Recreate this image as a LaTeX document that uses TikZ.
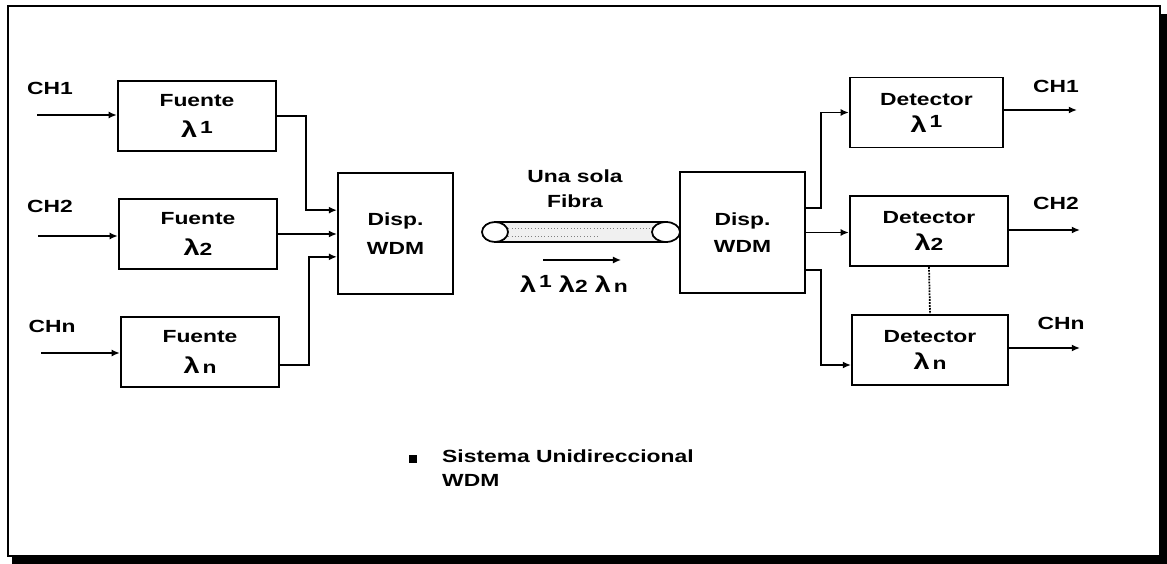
\documentclass[tikz,border=0pt]{standalone}
\usepackage{fontspec}
\setmainfont{Liberation Sans}
\newfontfamily\wdmfont[FakeStretch=1.3]{Liberation Sans}
\newcommand{\lam}{{\fontsize{19}{19}\selectfont λ}}
\usetikzlibrary{arrows.meta,positioning}

\begin{document}
\begin{tikzpicture}[x=0.03cm, y=-0.03cm, >={Latex[length=7pt,width=6pt]},
             every node/.style={font=\wdmfont\bfseries\fontsize{15}{18}\selectfont},
             blk/.style={rectangle, draw, line width=1.7pt, align=center,
                         minimum width=4.75cm, minimum height=2.1cm},
             disp/.style={blk, minimum width=3.5cm, minimum height=3.63cm},
             sig/.style={->, line width=1.4pt},
             lbl/.style={inner sep=0pt}]
\useasboundingbox (0,0) rectangle (1167,564);
%% outer frame with shadow
\draw[line width=1.2pt] (8,6) rectangle (1160,556);
\fill (1160,14) rectangle (1167,564);
\fill (12,556) rectangle (1167,564);

%% sources
\node[blk] (f1) at (197,116) {Fuente\\[9pt]\lam\,\raisebox{4pt}{1}};
\node[blk] (f2) at (198,234) {Fuente\\[9pt]\lam 2};
\node[blk] (fn) at (200,352) {Fuente\\[9pt]\lam\,n};
\node[disp, minimum width=3.45cm, text depth=0pt] (dl) at (395.5,233.5) {Disp.\\[7pt]WDM};

%% inputs
\node[lbl] (ch1i) at (50,88)  {CH1};
\node[lbl] (ch2i) at (50,206) {CH2};
\node[lbl] (chni) at (52,326) {CHn};
\coordinate (in1) at (37,115);
\coordinate (in2) at (38,236);
\coordinate (inn) at (41,353);
\draw[sig] (in1) -- (f1.west |- in1);
\draw[sig] (in2) -- (f2.west |- in2);
\draw[sig] (inn) -- (fn.west |- inn);

%% sources to multiplexer
\draw[sig] (f1.east) -- ++(29,0) |- ([yshift=0.7cm]dl.west);
\draw[sig] (f2.east) -- (dl.west |- f2.east);
\draw[sig] ([yshift=-0.39cm]fn.east) -- ++(29,0) |- ([yshift=-0.7cm]dl.west);

%% the fibre
\coordinate (fibL) at (495,232);
\coordinate (fibR) at (666,232);
\fill[gray!12] (495,222) rectangle (666,242);
\draw[dotted, gray, line width=0.8pt] (505,228) -- (655,228);
\draw[dotted, gray, line width=0.8pt] (505,236) -- (600,236);
\draw[line width=1.5pt] (495,222) -- (666,222);
\draw[line width=1.5pt] (495,242) -- (666,242);
\draw[line width=1.5pt, fill=white] (fibL) ellipse [x radius=0.39cm, y radius=0.3cm];
\draw[line width=1.5pt, fill=white] (fibR) ellipse [x radius=0.42cm, y radius=0.3cm];
\node[align=center, lbl] (fib) at (575,189) {Una sola\\[3pt]Fibra};
\coordinate (dirA) at (543,260);
\coordinate (dirB) at (621,260);
\draw[sig, line width=1.1pt] (dirA) -- (dirB);
\node[lbl] (lams) at (574,284)
  {\lam\,\raisebox{4pt}{1}\hspace{6pt}\lam 2\hspace{6pt}\lam\,n};

%% demultiplexer and detectors
\node[disp, minimum width=3.75cm] (dr) at (742.5,232.5) {Disp.\\[5pt]WDM};
\node[blk, minimum width=4.6cm] (d1) at (926.5,112.5) {Detector\\[5pt]\lam\,\raisebox{4pt}{1}};
\node[blk] (d2) at (929,231) {Detector\\[5pt]\lam 2};
\node[blk, minimum width=4.68cm] (dn) at (930,350) {Detector\\[5pt]\lam\,n};
\draw[densely dotted, line width=1.5pt] (d2.south) -- (dn.north);

\draw[sig] ([yshift=0.74cm]dr.east) -- ++(15,0) |- (d1.west);
\draw[sig] (dr.east) -- (d2.west |- dr.east);
\draw[sig] ([yshift=-1.13cm]dr.east) -- ++(15,0) |- ([yshift=-0.45cm]dn.west);

%% outputs
\node[lbl] (ch1o) at (1056,86)  {CH1};
\node[lbl] (ch2o) at (1056,203) {CH2};
\node[lbl] (chno) at (1061,323) {CHn};
\coordinate (out1) at (1077,110);
\coordinate (out2) at (1080,230);
\coordinate (outn) at (1080,348);
\draw[sig] (d1.east |- out1) -- (out1);
\draw[sig] (d2.east |- out2) -- (out2);
\draw[sig] (dn.east |- outn) -- (outn);

%% caption
\node[fill, minimum size=7pt, inner sep=0pt] (bul) at (413,459) {};
\node[lbl, anchor=north west, align=left] (cap) at (442,450)
  {Sistema Unidireccional\\[2pt]WDM};
\end{tikzpicture}
\end{document}
